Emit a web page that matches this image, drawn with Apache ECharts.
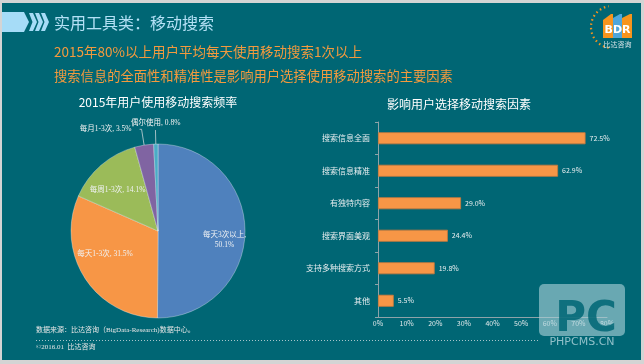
<!DOCTYPE html>
<html><head><meta charset="utf-8">
<script src="https://cdn.jsdelivr.net/npm/echarts@6/dist/echarts.min.js"></script>
<style>html,body{margin:0;padding:0;background:#d4d4d4;}#c{width:644px;height:364px;}</style>
</head><body><div id="c"></div>
<script>
const pieNames = ['每天3次以上','每天1-3次','每周1-3次','每月1-3次','偶尔使用'];
const pieValues = [50.1, 31.5, 14.1, 3.5, 0.8];
const pieColors = ['#4f81bd','#f79646','#9bbb59','#8064a2','#4bacc6'];
const barCats = ['搜索信息全面','搜索信息精准','有独特内容','搜索界面美观','支持多种搜索方式','其他'];
const barValues = [72.5, 62.9, 29.0, 24.4, 19.8, 5.5];
const xMin = 0, xMax = 80, xStep = 10;

const BG = '#006674';
const CJK = '"Noto Sans CJK SC","Noto Sans",sans-serif';
const SERIF = '"Liberation Serif","Noto Sans CJK SC",serif';
const labelShift = [[20,9],[-14,-2],[-10,-6],[-3,0],[30,-7]];

const chart = echarts.init(document.getElementById('c'));
const pieData = pieNames.map((n,i)=>{
  const d = {name:n, value:pieValues[i], itemStyle:{color:pieColors[i]}};
  if (i >= 3) {
    d.label = {position:'outside', color:'#f2f2f2'};
    d.labelLine = {show:true, length: i===3?16:14, length2: i===3?2:0, lineStyle:{color:'#c8d4d8', width:0.8}};
  }
  return d;
});

function txt(text, x, y, size, color, align) {
  return {type:'text', x:x, y:y, style:{text:text, fill:color, font: size+'px '+CJK, textAlign: align||'left', textVerticalAlign:'middle'}};
}

chart.setOption({
  backgroundColor: 'transparent',
  animation: false,
  graphic: [
    {type:'rect', shape:{x:2,y:3,width:639,height:357}, style:{fill:BG}, z:-10},
    {type:'polygon', shape:{points:[[2,12],[24,12],[29,22],[24,32],[2,32]]}, style:{fill:'#a6dcf7'}},
    {type:'polygon', shape:{points:[[29,13],[33,13],[37,22],[33,31],[29,31],[32.5,22]]}, style:{fill:'#a6dcf7'}},
    {type:'polygon', shape:{points:[[35,13],[39,13],[43,22],[39,31],[35,31],[38.5,22]]}, style:{fill:'#a6dcf7'}},
    {type:'polygon', shape:{points:[[41,13],[45,13],[49,22],[45,31],[41,31],[44.5,22]]}, style:{fill:'#a6dcf7'}},
    txt('实用工具类：移动搜索', 54, 23, 16, '#b3e0f5'),
    txt('2015年80%以上用户平均每天使用移动搜索1次以上', 54, 52, 13.5, '#f39a3e'),
    txt('搜索信息的全面性和精准性是影响用户选择使用移动搜索的主要因素', 54, 76, 13.3, '#f39a3e'),
    txt('2015年用户使用移动搜索频率', 158, 102, 12, '#ffffff', 'center'),
    txt('影响用户选择移动搜索因素', 387, 104, 12, '#ffffff'),
    {type:'text', x:36, y:330, style:{text:'数据来源：比达咨询（BigData-Research)数据中心。', fill:'#e6e6e6', font:'7px '+SERIF, textVerticalAlign:'middle'}},
    {type:'text', x:36, y:347, style:{text:'©2016.01  比达咨询', fill:'#e6e6e6', font:'7px '+SERIF, textVerticalAlign:'middle'}},
    {type:'line', shape:{x1:36,y1:340.5,x2:540,y2:340.5}, style:{stroke:'#a9c4ca', lineWidth:1, lineDash:[1,2]}},
    // BDR logo
    {type:'arc', shape:{cx:612,cy:27,r:21,startAngle:Math.PI*0.55,endAngle:Math.PI*1.45}, style:{stroke:'#f7941d', lineWidth:2.2, lineDash:[1.5,3], fill:null}},
    {type:'polygon', shape:{points:[[603,20],[611,14],[613,14],[613,38],[603,38]]}, style:{fill:'#f7941d'}},
    {type:'polygon', shape:{points:[[613,18],[620,14],[622,14],[622,38],[613,38]]}, style:{fill:'#4ea6dc'}},
    {type:'polygon', shape:{points:[[622,18],[630,14],[632,14],[632,38],[622,38]]}, style:{fill:'#f7941d'}},
    {type:'text', x:617.5, y:30, style:{text:'BDR', fill:'#ffffff', font:'bold 11px "DejaVu Sans",sans-serif', textAlign:'center', textVerticalAlign:'middle'}},
    {type:'text', x:617.5, y:44, style:{text:'比达咨询', fill:'#d8e4e8', font:'7px '+CJK, textAlign:'center', textVerticalAlign:'middle'}},
    // watermark
    {type:'rect', shape:{x:539,y:284,width:86,height:52,r:5}, style:{fill:'rgba(170,208,216,0.62)'}, z:50},
    {type:'text', x:586, y:320, style:{text:'PC', fill:BG, font:'bold 42px "DejaVu Sans",sans-serif', textAlign:'center', textVerticalAlign:'middle', opacity:0.85}, z:51},
    {type:'text', x:582, y:342, style:{text:'PHPCMS.CN', fill:'rgba(180,215,222,0.8)', font:'11px "DejaVu Sans",sans-serif', textAlign:'center', textVerticalAlign:'middle'}, z:51}
  ],
  grid: {left:378, top:122, width:229, height:195},
  xAxis: {
    type:'value', min:xMin, max:xMax, interval:xStep,
    axisLine:{show:true, lineStyle:{color:'#8da3a9'}},
    axisTick:{show:false}, splitLine:{show:false},
    axisLabel:{formatter:'{value}%', fontSize:7, color:'#dfe8ea', margin:3, fontFamily:CJK}
  },
  yAxis: {
    type:'category', data:barCats, inverse:true,
    axisLine:{show:true, lineStyle:{color:'#8da3a9'}},
    axisTick:{show:true, length:3, lineStyle:{color:'#8da3a9'}},
    axisLabel:{fontSize:8, color:'#e8eef0', margin:8, fontFamily:CJK}
  },
  series: [
    {
      type:'bar', data:barValues, barWidth:12,
      itemStyle:{color:'#f79646', borderColor:'#c97a3c', borderWidth:0.8},
      label:{show:true, position:'right', distance:4, fontSize:7, color:'#e8eef0', fontFamily:CJK,
        formatter:p=>p.value.toFixed(1)+'%'}
    },
    {
      type:'pie', center:[158,231], radius:87, startAngle:90, clockwise:true,
      avoidLabelOverlap:false,
      data:pieData,
      itemStyle:{borderColor:'rgba(255,255,255,0.55)', borderWidth:0.6},
      label:{show:true, position:'inside', fontSize:7.5, color:'#f0f2f4', fontFamily:SERIF, lineHeight:10,
        formatter:p=> p.dataIndex===0 ? p.name+',\n'+p.value.toFixed(1)+'%' : p.name+', '+p.value.toFixed(1)+'%'},
      labelLayout: p => ({dx: labelShift[p.dataIndex][0], dy: labelShift[p.dataIndex][1]})
    }
  ]
});
</script></body></html>
